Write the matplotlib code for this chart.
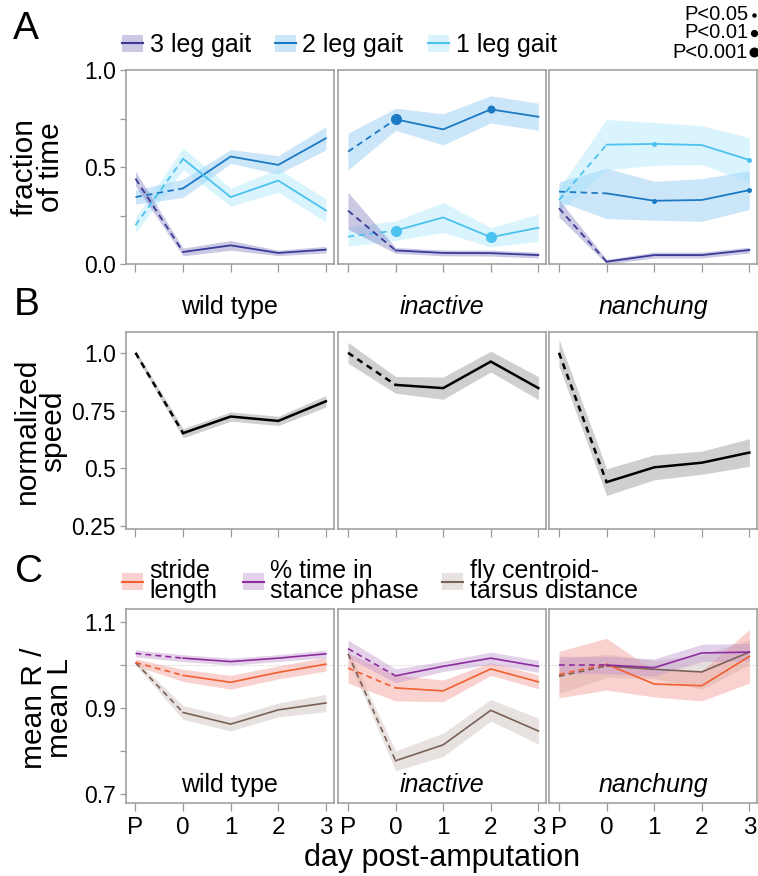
import numpy as np
import matplotlib
matplotlib.use("Agg")
import matplotlib.pyplot as plt
from matplotlib.patches import Patch
from matplotlib.lines import Line2D

plt.rcParams['font.family'] = ['Liberation Sans', 'DejaVu Sans']

days = ['P', '0', '1', '2', '3']
genotypes = ['wild type', 'inactive', 'nanchung']
genotype_italic = [False, True, True]

# Panel A: fraction of time in each gait (rows: wild type, inactive, nanchung)
gait3_mean = [[0.44, 0.062, 0.096, 0.057, 0.074],
              [0.275, 0.07, 0.057, 0.056, 0.046],
              [0.287, 0.012, 0.046, 0.046, 0.072]]
gait3_ci = [[0.038, 0.02, 0.025, 0.014, 0.017],
            [0.095, 0.015, 0.015, 0.015, 0.015],
            [0.045, 0.012, 0.015, 0.015, 0.015]]
gait2_mean = [[0.345, 0.39, 0.554, 0.511, 0.648],
              [0.579, 0.746, 0.694, 0.797, 0.759],
              [0.373, 0.364, 0.326, 0.33, 0.381]]
gait2_ci = [[0.036, 0.047, 0.036, 0.047, 0.06],
            [0.095, 0.057, 0.08, 0.07, 0.07],
            [0.05, 0.13, 0.1, 0.11, 0.1]]
gait1_mean = [[0.2, 0.542, 0.345, 0.43, 0.276],
              [0.141, 0.172, 0.24, 0.138, 0.187],
              [0.33, 0.615, 0.619, 0.613, 0.536]]
gait1_ci = [[0.04, 0.056, 0.047, 0.06, 0.06],
            [0.05, 0.05, 0.077, 0.05, 0.07],
            [0.06, 0.13, 0.11, 0.1, 0.115]]
# significance per point: 0 = n.s., 1 = P<0.05, 2 = P<0.01, 3 = P<0.001
gait3_sig = [[0, 0, 0, 0, 0], [0, 0, 0, 0, 0], [0, 0, 0, 0, 0]]
gait2_sig = [[0, 0, 0, 0, 0], [0, 3, 0, 2, 0], [0, 0, 1, 0, 1]]
gait1_sig = [[0, 0, 0, 0, 0], [0, 3, 0, 3, 0], [0, 0, 1, 0, 1]]

# Panel B: normalized walking speed
speed_mean = [[1.0, 0.652, 0.724, 0.705, 0.79],
              [1.0, 0.861, 0.847, 0.962, 0.847],
              [1.0, 0.44, 0.504, 0.524, 0.568]]
speed_ci = [[0.012, 0.02, 0.02, 0.02, 0.025],
            [0.045, 0.036, 0.048, 0.045, 0.05],
            [0.058, 0.058, 0.054, 0.05, 0.06]]

# Panel C: right/left ratios
stride_mean = [[1.006, 0.976, 0.96, 0.983, 1.002],
               [0.993, 0.947, 0.94, 0.991, 0.961],
               [0.978, 1.002, 0.956, 0.952, 1.02]]
stride_ci = [[0.008, 0.014, 0.016, 0.015, 0.016],
             [0.035, 0.03, 0.025, 0.015, 0.016],
             [0.054, 0.06, 0.03, 0.035, 0.062]]
stance_mean = [[1.027, 1.016, 1.008, 1.016, 1.026],
               [1.038, 0.975, 0.997, 1.016, 0.997],
               [1.0, 1.0, 0.994, 1.028, 1.03]]
stance_ci = [[0.008, 0.008, 0.008, 0.008, 0.009],
             [0.02, 0.016, 0.012, 0.014, 0.014],
             [0.02, 0.02, 0.02, 0.02, 0.02]]
centroid_mean = [[1.006, 0.89, 0.863, 0.896, 0.912],
                 [1.026, 0.778, 0.815, 0.895, 0.847],
                 [0.974, 0.998, 0.99, 0.984, 1.03]]
centroid_ci = [[0.006, 0.016, 0.016, 0.016, 0.02],
               [0.012, 0.023, 0.027, 0.025, 0.03],
               [0.04, 0.027, 0.021, 0.04, 0.029]]

W, H = 758, 876
fig = plt.figure(figsize=(W / 100, H / 100), dpi=100)


def fx(px):
    return px / W


def fy(py):
    return 1 - py / H


FRAME = '#9a9a9a'
sig_size = {1: 3.6, 2: 5.8, 3: 8.0}

col_left = [125.5, 338, 549]
col_width = 208
row_top_bottom = [(70, 264), (332, 529), (609, 803)]


def make_axes(row, col):
    top, bottom = row_top_bottom[row]
    ax = fig.add_axes([fx(col_left[col]), fy(bottom), col_width / W, (bottom - top) / H])
    ax.set_xlim(-0.21, 4.16)
    ax.set_xticks(range(len(days)))
    for s in ax.spines.values():
        s.set_color(FRAME)
        s.set_linewidth(1.1)
    ax.tick_params(axis='x', direction='out', length=6, width=0.9, color=FRAME,
                   labelsize=17.5, pad=4)
    ax.tick_params(axis='y', direction='out', length=4, width=0.9, color=FRAME,
                   labelsize=16.5, pad=3)
    if col > 0:
        ax.tick_params(axis='y', left=False, labelleft=False)
    return ax


def draw_series(ax, mean, ci, color, fill, alpha, lw, sig=None, dash=(0, (3.5, 2.5))):
    x = np.arange(len(days))
    m = np.asarray(mean, float)
    c = np.asarray(ci, float)
    ax.fill_between(x, m - c, m + c, color=fill, alpha=alpha, lw=0, zorder=1)
    ax.plot(x[:2], m[:2], color=color, lw=lw, ls=dash, zorder=3)
    ax.plot(x[1:], m[1:], color=color, lw=lw, zorder=3, solid_joinstyle='miter')
    if sig is not None:
        for xi, (mi, level) in enumerate(zip(m, sig)):
            if level:
                ax.plot(xi, mi, 'o', color=color, ms=sig_size[level], mew=0, zorder=4)


C3, F3 = '#3b3a96', '#6c63b4'
C2, F2 = '#1c79c4', '#6db8ee'
C1, F1 = '#4cc2ef', '#97e2fb'
CS, FS = '#000000', '#a8a8a8'
CR, FR = '#f1602f', '#f39a93'
CP, FP = '#8d2c9f', '#c298cf'
CB, FB = '#7a6158', '#cbbfb8'

# ---- Panel A ----
for g in range(3):
    ax = make_axes(0, g)
    ax.set_ylim(0, 1)
    ax.set_yticks([0, 0.25, 0.5, 0.75, 1.0])
    ax.set_yticklabels(['0.0', '', '0.5', '', '1.0'])
    ax.tick_params(axis='x', labelbottom=False)
    draw_series(ax, gait2_mean[g], gait2_ci[g], C2, F2, 0.35, 1.3, gait2_sig[g])
    draw_series(ax, gait1_mean[g], gait1_ci[g], C1, F1, 0.35, 1.3, gait1_sig[g])
    draw_series(ax, gait3_mean[g], gait3_ci[g], C3, F3, 0.35, 1.3, gait3_sig[g])

# ---- Panel B ----
for g in range(3):
    ax = make_axes(1, g)
    ax.set_ylim(0.237, 1.09)
    ax.set_yticks([0.25, 0.5, 0.75, 1.0])
    ax.set_yticklabels(['0.25', '0.5', '0.75', '1.0'])
    ax.tick_params(axis='x', labelbottom=False)
    draw_series(ax, speed_mean[g], speed_ci[g], CS, FS, 0.55, 1.8, dash=(0, (2.5, 2)))
    ax.set_title(genotypes[g], fontsize=18, pad=13,
                 fontstyle='italic' if genotype_italic[g] else 'normal')

# ---- Panel C ----
for g in range(3):
    ax = make_axes(2, g)
    ax.set_ylim(0.68, 1.13)
    ax.set_yticks([0.7, 0.8, 0.9, 1.0, 1.1])
    ax.set_yticklabels(['0.7', '', '0.9', '', '1.1'])
    ax.set_xticklabels(days)
    ax.axhline(1.0, color='#cfcfcf', lw=0.8, ls=(0, (1, 1.5)), zorder=0)
    draw_series(ax, centroid_mean[g], centroid_ci[g], CB, FB, 0.45, 1.2)
    draw_series(ax, stride_mean[g], stride_ci[g], CR, FR, 0.45, 1.2)
    draw_series(ax, stance_mean[g], stance_ci[g], CP, FP, 0.45, 1.2)
    ax.text(0.5, 0.057, genotypes[g], transform=ax.transAxes, ha='center', va='baseline',
            fontsize=18, fontstyle='italic' if genotype_italic[g] else 'normal')

# ---- axis labels and panel letters ----
fig.text(fx(38), fy(167), 'fraction\nof time', rotation=90, ha='center', va='center',
         fontsize=21.5, linespacing=0.9)
fig.text(fx(40), fy(431), 'normalized\nspeed', rotation=90, ha='center', va='center',
         fontsize=21.5, linespacing=0.9)
fig.text(fx(47), fy(708), 'mean R /\nmean L', rotation=90, ha='center', va='center',
         fontsize=21.5, linespacing=0.9)
fig.text(fx(442), fy(858), 'day post-amputation', ha='center', va='center', fontsize=22)
for letter, (px, py) in zip('ABC', [(26, 29), (27, 305), (29, 572)]):
    fig.text(fx(px), fy(py), letter, ha='center', va='center', fontsize=28)


# ---- legends ----
def legend_entry(x, y, label, line_color, fill_color, alpha):
    handle = (Patch(facecolor=fill_color, alpha=alpha, edgecolor='none'),
              Line2D([], [], color=line_color, lw=1.5))
    leg = fig.legend([handle], [label], loc='center left',
                     bbox_to_anchor=(fx(x), fy(y)), frameon=False, fontsize=18,
                     borderpad=0, borderaxespad=0, handlelength=0.82,
                     handleheight=0.68, handletextpad=0.28)
    for t in leg.get_texts():
        t.set_linespacing(0.82)
    return leg


legend_entry(122, 45, '3 leg gait', C3, F3, 0.35)
legend_entry(275, 45, '2 leg gait', C2, F2, 0.35)
legend_entry(428, 45, '1 leg gait', C1, F1, 0.35)
legend_entry(122, 581, 'stride\nlength', CR, FR, 0.45)
legend_entry(243, 581, '% time in\nstance phase', CP, FP, 0.45)
legend_entry(442, 581, 'fly centroid-\ntarsus distance', CB, FB, 0.45)

# significance key
for level, (label, py) in enumerate([('P<0.05', 15), ('P<0.01', 33), ('P<0.001', 52)], start=1):
    fig.text(fx(748), fy(py), label, ha='right', va='center', fontsize=14.5)
    fig.add_artist(Line2D([fx(753.5)], [fy(py)], marker='o', color='black', lw=0,
                          ms=sig_size[level] * 0.9, mew=0, transform=fig.transFigure))

fig.savefig('out.png', dpi=100)
